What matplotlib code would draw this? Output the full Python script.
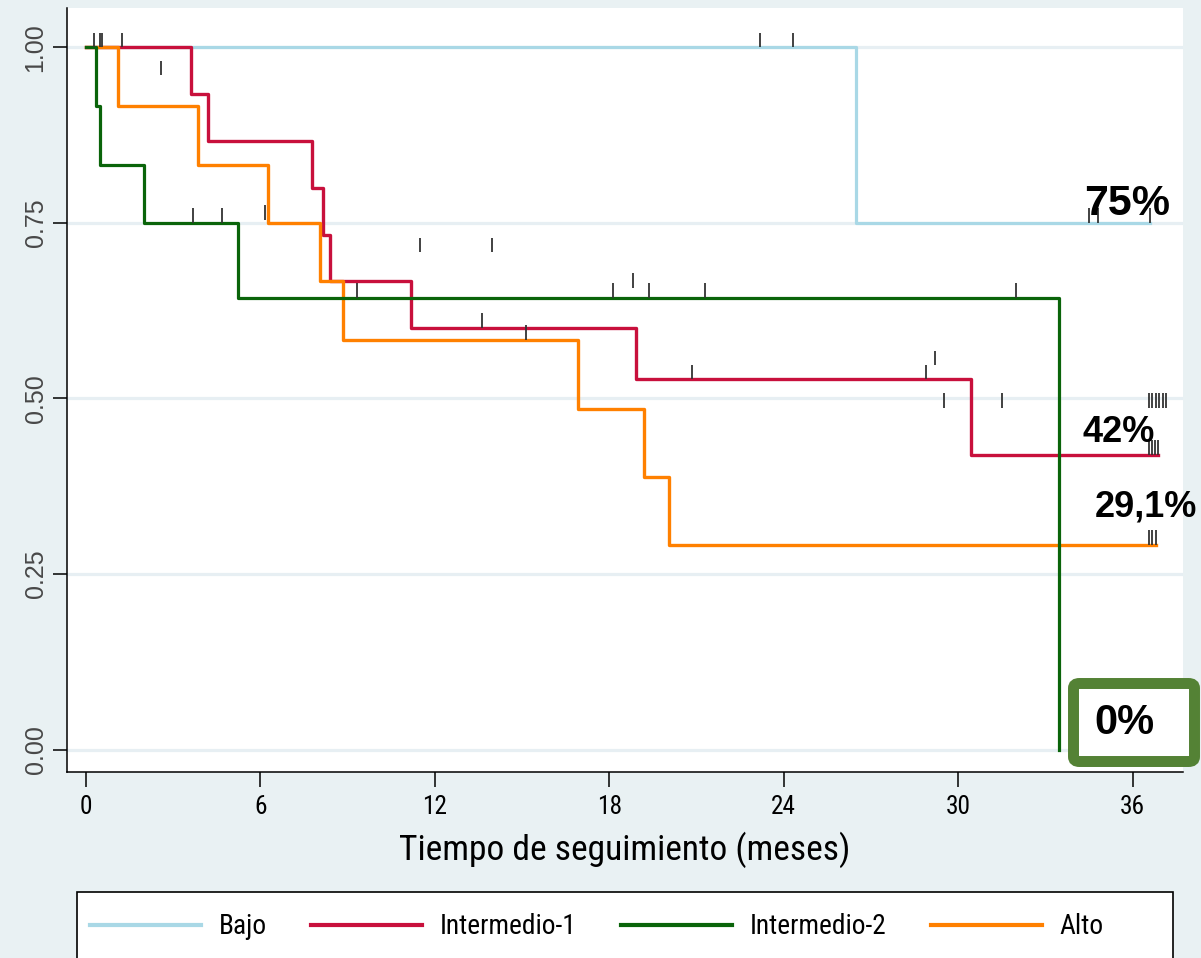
import numpy as np
import matplotlib
matplotlib.use("Agg")
import matplotlib.pyplot as plt
from matplotlib import font_manager
from matplotlib.font_manager import FontProperties
from matplotlib.patches import FancyBboxPatch, Rectangle
from matplotlib.lines import Line2D

# ---------------- data ----------------
group_names = ["Bajo", "Intermedio-1", "Intermedio-2", "Alto"]

bajo_t = [0.0, 26.5, 36.6]
bajo_s = [1.0, 0.75, 0.75]

int1_t = [0.0, 3.6, 4.2, 7.76, 8.14, 8.39, 11.18, 18.9, 30.45, 36.86]
int1_s = [1.0, 0.933, 0.867, 0.80, 0.733, 0.667, 0.60, 0.527, 0.42, 0.42]

int2_t = [0.0, 0.33, 0.48, 2.0, 5.24, 33.47]
int2_s = [1.0, 0.917, 0.833, 0.75, 0.643, 0.0]

alto_t = [0.0, 1.11, 3.86, 6.27, 8.05, 8.85, 16.91, 19.19, 20.06, 36.8]
alto_s = [1.0, 0.917, 0.833, 0.75, 0.667, 0.583, 0.485, 0.388, 0.291, 0.291]

# censoring marks (time, survival level at base of tick)
cens_t = [0.29, 0.48, 0.56, 1.24, 2.58, 3.67, 4.69, 6.16, 9.31, 11.49, 13.96,
          13.62, 15.15, 18.12, 18.8, 19.36, 21.29, 20.85, 23.18, 24.3, 28.9,
          29.2, 29.5, 31.5, 32.0, 34.5, 34.8, 36.6,
          36.56, 36.68, 36.79, 36.91, 37.03, 37.14,
          36.56, 36.66, 36.76, 36.86,
          36.56, 36.68, 36.8]
cens_s = [1.0, 1.0, 1.0, 1.0, 0.960, 0.75, 0.75, 0.754, 0.643, 0.708, 0.708,
          0.60, 0.583, 0.643, 0.657, 0.643, 0.643, 0.527, 1.0, 1.0, 0.527,
          0.547, 0.487, 0.487, 0.643, 0.75, 0.75, 0.75,
          0.487, 0.487, 0.487, 0.487, 0.487, 0.487,
          0.42, 0.42, 0.42, 0.42,
          0.291, 0.291, 0.291]

x_ticks = [0, 6, 12, 18, 24, 30, 36]
y_ticks = [0.0, 0.25, 0.50, 0.75, 1.00]
y_ticklabels = ["0.00", "0.25", "0.50", "0.75", "1.00"]
x_label = "Tiempo de seguimiento (meses)"

end_labels = ["75%", "42%", "29,1%"]
end_label_x = [35.8, 35.53, 36.46]
end_label_y = [0.761, 0.438, 0.332]
end_label_size = [31, 26, 26]
zero_label = "0%"

# ---------------- style ----------------
BG = "#E9F1F3"
colors = {"Bajo": "#A9D8E6", "Intermedio-1": "#C8103C",
          "Intermedio-2": "#0A640A", "Alto": "#FF8000"}

names = {f.name for f in font_manager.fontManager.ttflist}
narrow = "Liberation Sans"
for cand in ["Liberation Sans Narrow", "Arial Narrow", "Roboto Condensed",
             "Archivo Narrow", "PT Sans Narrow", "Open Sans Condensed",
             "Fira Sans Condensed", "IBM Plex Sans Condensed", "Encode Sans Condensed"]:
    if cand in names:
        narrow = cand
        break
regular = "Liberation Sans" if "Liberation Sans" in names else "DejaVu Sans"

W, H = 1201, 958
def fx(px): return px / W
def fy(py): return 1 - py / H

fig = plt.figure(figsize=(12.01, 9.58), dpi=100, facecolor=BG)
renderer = fig.canvas.get_renderer()

def width_scale(text, family, size, target_px):
    t = fig.text(0, 0, text, family=family, fontsize=size)
    w = t.get_window_extent(renderer).width
    t.remove()
    return target_px / w

s_leg = width_scale("Intermedio-1", narrow, 21, 128)
s_lab = width_scale(x_label, narrow, 27, 445)
leg_size = 21 * s_leg ** 0.5
tick_size = 19 * s_leg ** 0.3
lab_size = 27 * s_lab ** 0.8

ax = fig.add_axes([fx(67), fy(772), fx(1183) - fx(67), fy(8) - fy(772)])
ax.set_facecolor("white")

ax.set_xlim(-0.653, 37.73)
ax.set_ylim(-0.032, 1.056)

ax.set_yticks(y_ticks)
ax.set_yticklabels(y_ticklabels)
ax.set_xticks(x_ticks)
ax.set_xticklabels([str(v) for v in x_ticks])

ax.grid(axis="y", color="#E7EFF3", lw=2.3)
ax.grid(axis="x", visible=False)
ax.set_axisbelow(True)

for s in ["top", "right"]:
    ax.spines[s].set_visible(False)
for s in ["left", "bottom"]:
    ax.spines[s].set_color("black")
    ax.spines[s].set_linewidth(1.1)

ax.tick_params(axis="x", length=10.8, width=1.1, pad=6, labelsize=tick_size, direction="out")
ax.tick_params(axis="y", length=10, width=1.1, pad=4, labelsize=18, labelrotation=90,
               labelcolor="#484848", direction="out")
for lbl in ax.get_xticklabels():
    lbl.set_fontfamily(narrow)
for lbl in ax.get_yticklabels():
    lbl.set_fontfamily(regular)
    lbl.set_va("center")

# curves
ax.step(bajo_t, bajo_s, where="post", color=colors["Bajo"], lw=2.3, zorder=3)
ax.step(int1_t, int1_s, where="post", color=colors["Intermedio-1"], lw=2.4, zorder=3.1)
ax.step(alto_t, alto_s, where="post", color=colors["Alto"], lw=2.4, zorder=3.2)
ax.step(int2_t, int2_s, where="post", color=colors["Intermedio-2"], lw=2.3, zorder=3.3)

# censor ticks
cs = np.array(cens_s)
ax.vlines(cens_t, cs, cs + 0.021, color="#333333", lw=1.3, zorder=4)

# end labels
for txt, x, y, sz in zip(end_labels, end_label_x, end_label_y, end_label_size):
    ax.text(x, y, txt, ha="center", va="baseline", fontsize=sz, fontweight="bold",
            family=regular, color="black", clip_on=False, zorder=6)

# x label
ax.set_xlabel(x_label, fontsize=lab_size, family=narrow, va="baseline")
ax.xaxis.set_label_coords(0.5, (772 - 860) / 764)

# highlighted 0% box
box = FancyBboxPatch((fx(1073.5), fy(761.5)), fx(1194.5) - fx(1073.5), fy(683.5) - fy(761.5),
                     boxstyle="round,pad=0,rounding_size=0.005", transform=fig.transFigure,
                     fc="white", ec="#548235", lw=7.9, zorder=10)
fig.patches.append(box)
fig.text(fx(1124), fy(734), zero_label, ha="center", va="baseline", fontsize=30,
         fontweight="bold", family=regular, zorder=11)

# legend frame
frame = Rectangle((fx(77), fy(975)), fx(1173) - fx(77), fy(892) - fy(975),
                  transform=fig.transFigure, fc="white", ec="black", lw=1.2, zorder=1)
fig.patches.append(frame)

handles = [Line2D([], [], color=colors[n], lw=3) for n in group_names]
fs_px = leg_size * 100 / 72
fig.legend(handles, group_names, ncol=4, loc="center left",
           bbox_to_anchor=(fx(90), fy(927)), frameon=False, borderpad=0, borderaxespad=0,
           handlelength=111 / fs_px, handletextpad=18 / fs_px, columnspacing=44 / fs_px,
           prop=FontProperties(family=narrow, size=leg_size))

fig.savefig("out.png", dpi=100, facecolor=BG)
